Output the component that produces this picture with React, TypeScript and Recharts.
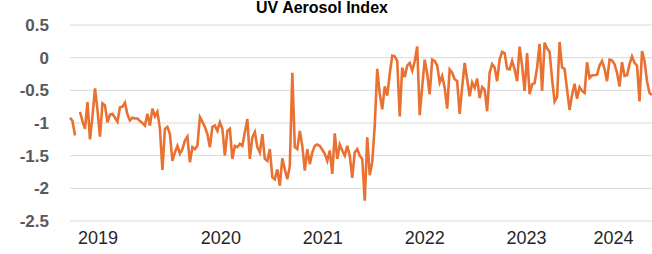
import { LineChart, Line, XAxis, YAxis, CartesianGrid } from 'recharts';

const TITLE = 'UV Aerosol Index';

// year labels and where they sit on the weekly index axis
const YEAR_LABELS = ['2019', '2020', '2021', '2022', '2023', '2024'];
const YEAR_TICKS = [11.2, 60.4, 101.2, 142, 182.8, 217.6];

const Y_TICKS = [-2.5, -2, -1.5, -1, -0.5, 0, 0.5];

// UV aerosol index (null = missing week)
const UV_INDEX: (number | null)[] = [
  -0.92, -0.97, -1.19, null, -0.83, -0.97, -1.09, -0.68, -1.25, -0.9,
  -0.47, -0.8, -1.21, -0.7, -0.73, -0.99, -0.87, -0.86, -0.92, -0.98,
  -0.76, -0.75, -0.69, -0.87, -0.96, -0.92, -0.93, -0.93, -0.97, -1.0,
  -1.04, -0.86, -1.04, -0.78, -0.9, -0.83, -1.09, -1.72, -1.09, -1.06,
  -1.17, -1.58, -1.45, -1.35, -1.47, -1.4, -1.27, -1.21, -1.6, -1.37,
  -1.4, -1.35, -0.91, -0.98, -1.06, -1.17, -1.37, -1.06, -1.04, -1.12,
  -0.99, -1.09, -1.5, -1.12, -1.09, -1.55, -1.35, -1.37, -1.32, -1.35,
  -1.14, -0.94, -1.55, -1.22, -1.14, -1.37, -1.45, -1.17, -1.55, -1.58,
  -1.4, -1.83, -1.86, -1.71, -1.96, -1.54, -1.71, -1.86, -1.66, -0.23,
  -1.37, -1.4, -1.12, -1.35, -1.73, -1.4, -1.63, -1.45, -1.35, -1.33,
  -1.35, -1.41, -1.47, -1.58, -1.42, -1.78, -1.16, -1.55, -1.33, -1.42,
  -1.5, -1.35, -1.5, -1.84, -1.45, -1.4, -1.5, -1.55, -2.19, -1.22,
  -1.8, -1.6, -1.04, -0.17, -0.55, -0.79, -0.44, -0.58, -0.25, 0.03,
  0.02, -0.05, -0.9, -0.15, -0.3, -0.12, -0.08, -0.2, -0.06, 0.17,
  -0.88, -0.45, -0.03, -0.25, -0.56, -0.03, -0.05, -0.12, -0.38, -0.28,
  -0.46, -0.78, -0.18, -0.23, -0.33, -0.36, -0.86, -0.45, -0.08, -0.33,
  -0.59, -0.38, -0.46, -0.32, -0.62, -0.45, -0.49, -0.82, -0.23, -0.1,
  -0.15, -0.36, -0.03, 0.09, 0.07, -0.17, -0.18, -0.05, -0.18, -0.36,
  0.17, -0.13, -0.51, 0.07, -0.56, -0.41, -0.39, -0.15, 0.21, -0.51,
  0.23, 0.14, 0.09, -0.33, -0.67, -0.6, 0.24, -0.15, -0.17, -0.49,
  -0.8, -0.57, -0.4, -0.63, -0.45, -0.51, -0.54, -0.07, -0.31, -0.27,
  -0.27, -0.26, -0.12, -0.05, -0.17, -0.36, -0.03, -0.04, -0.1, -0.23,
  -0.44, -0.07, -0.28, -0.27, -0.1, 0.02, -0.08, -0.12, -0.67, 0.1,
  -0.05, -0.36, -0.54, -0.57,
];

const data = UV_INDEX.map((v, i) => ({ i, v }));

const FONT = '"Liberation Sans", Arial, sans-serif';

export default function App() {
  return (
    <div
      style={{
        position: 'absolute',
        left: 0,
        top: 0,
        width: 652,
        height: 254,
        background: '#fff',
        fontFamily: FONT,
        overflow: 'hidden',
      }}
    >
      <div
        style={{
          position: 'absolute',
          top: 0,
          left: 0,
          width: 644,
          textAlign: 'center',
          fontWeight: 'bold',
          fontSize: 16,
          lineHeight: '16px',
          color: '#000',
        }}
      >
        {TITLE}
      </div>
      <LineChart
        width={652}
        height={254}
        data={data}
        margin={{ top: 25, right: 0, bottom: 0, left: 0 }}
      >
        <CartesianGrid vertical={false} stroke="#d9d9d9" />
        <XAxis
          dataKey="i"
          type="number"
          domain={[0, UV_INDEX.length - 1]}
          ticks={YEAR_TICKS}
          tickFormatter={(t: number) => YEAR_LABELS[YEAR_TICKS.indexOf(t)]}
          axisLine={false}
          tickLine={false}
          height={33}
          tickMargin={4}
          interval={0}
          tick={{ fill: '#262626', fontSize: 18, fontFamily: FONT }}
        />
        <YAxis
          type="number"
          domain={[-2.5, 0.5]}
          ticks={Y_TICKS}
          axisLine={false}
          tickLine={false}
          width={70}
          tickMargin={15}
          interval={0}
          tick={{ fill: '#595959', fontSize: 17, fontWeight: 'bold', fontFamily: FONT }}
        />
        <Line
          type="linear"
          dataKey="v"
          stroke="#E97132"
          strokeWidth={2.6}
          dot={false}
          connectNulls={false}
          isAnimationActive={false}
        />
      </LineChart>
    </div>
  );
}
